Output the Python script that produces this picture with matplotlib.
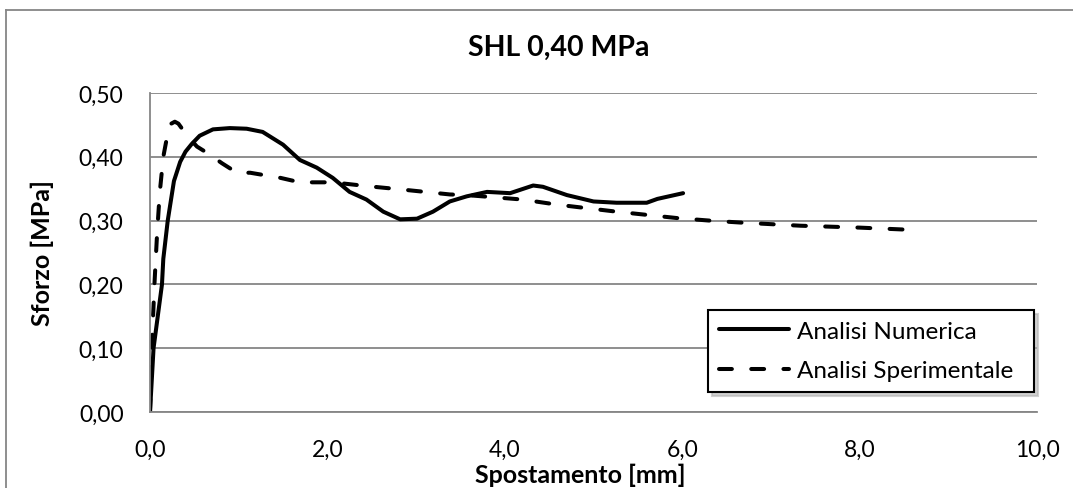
import matplotlib
matplotlib.use("Agg")
import matplotlib.pyplot as plt
from matplotlib.lines import Line2D

# Data
num_x = [0, 0.04, 0.135, 0.15, 0.20, 0.27, 0.34, 0.40, 0.47, 0.56, 0.71, 0.90, 1.09, 1.27,
         1.50, 1.69, 1.88, 2.06, 2.25, 2.44, 2.63, 2.82, 3.01, 3.19, 3.38, 3.57, 3.80,
         4.06, 4.32, 4.43, 4.70, 5.00, 5.26, 5.60, 5.72, 6.01]
num_y = [0, 0.10, 0.20, 0.24, 0.30, 0.362, 0.392, 0.408, 0.420, 0.433, 0.443, 0.445, 0.444, 0.439,
         0.419, 0.395, 0.383, 0.367, 0.345, 0.333, 0.314, 0.302, 0.303, 0.314, 0.330, 0.338, 0.345,
         0.343, 0.355, 0.353, 0.340, 0.330, 0.328, 0.328, 0.334, 0.343]

exp_x = [0, 0.02, 0.05, 0.08, 0.11, 0.15, 0.20, 0.24, 0.28, 0.32, 0.43, 0.53, 0.68, 0.81, 0.98,
         1.13, 1.47, 1.69, 2.06, 2.45, 2.82, 3.38, 3.57, 4.20, 4.59, 5.26, 5.94, 6.31, 6.65,
         7.33, 8.00, 8.50]
exp_y = [0, 0.10, 0.20, 0.28, 0.344, 0.400, 0.437, 0.452, 0.455, 0.452, 0.431, 0.416, 0.403, 0.390, 0.375,
         0.375, 0.367, 0.360, 0.360, 0.354, 0.349, 0.341, 0.340, 0.333, 0.325, 0.314, 0.304, 0.300, 0.297,
         0.292, 0.289, 0.286]

series_labels = ["Analisi Numerica", "Analisi Sperimentale"]
title = "SHL 0,40 MPa"
xlabel = "Spostamento [mm]"
ylabel = "Sforzo [MPa]"
xticks = [0, 2, 4, 6, 8, 10]
yticks = [0, 0.1, 0.2, 0.3, 0.4, 0.5]

plt.rcParams['font.family'] = ['Lato', 'DejaVu Sans']

W, H = 1073, 489
fig = plt.figure(figsize=(W / 100, H / 100), dpi=100)
L, R, T, B = 150, 1037, 94, 413
ax = fig.add_axes([L / W, 1 - B / H, (R - L) / W, (B - T) / H])

grid_c = '#868686'
lw = 2.9
ax.plot(num_x, num_y, color='black', lw=lw, solid_capstyle='round', solid_joinstyle='round',
        label=series_labels[0])
ax.plot(exp_x, exp_y, color='black', lw=lw, linestyle=(0, (3.2, 4.8)), dash_capstyle='round',
        dash_joinstyle='round', label=series_labels[1])

ax.set_xlim(0, 10)
ax.set_ylim(0, 0.5)
ax.set_xticks(xticks)
ax.set_yticks(yticks)
ax.set_xticklabels([f"{v:.1f}".replace('.', ',') for v in xticks])
ax.set_yticklabels([f"{v:.2f}".replace('.', ',') for v in yticks])
ax.tick_params(length=0, labelsize=16.5, pad=19, colors='black')
ax.yaxis.grid(True, color=grid_c, lw=1.3)
ax.set_axisbelow(True)
for s in ['top', 'right']:
    ax.spines[s].set_visible(False)
for s in ['left', 'bottom']:
    ax.spines[s].set_color(grid_c)
    ax.spines[s].set_linewidth(1.3)

fig.text(559 / W, 1 - 48 / H, title, ha='center', va='center', fontsize=20.5, fontweight='bold')
fig.text(580 / W, 1 - 475 / H, xlabel, ha='center', va='center', fontsize=18, fontweight='bold')
fig.text(42 / W, 1 - 253 / H, ylabel, ha='center', va='center', rotation=90, fontsize=18,
         fontweight='bold')

leg = ax.legend(loc='upper left',
                bbox_to_anchor=(708 / W, 1 - 311 / H - 0.01, (1034 - 708) / W, 0.01),
                bbox_transform=fig.transFigure, mode='expand', fontsize=17.5, frameon=True,
                fancybox=False, edgecolor='black', handlelength=2.9, handletextpad=0.3,
                borderaxespad=0, borderpad=0.45, labelspacing=0.75,
                shadow={'ox': 3, 'oy': -3, 'color': '0.7', 'alpha': 0.6})
leg.get_frame().set_linewidth(1.5)

# outer chart border
fig.add_artist(Line2D([6 / W, 6 / W], [0, 1 - 11 / H], color=grid_c, lw=1.3, transform=fig.transFigure))
fig.add_artist(Line2D([6 / W, 1], [1 - 11 / H, 1 - 11 / H], color=grid_c, lw=1.3, transform=fig.transFigure))

fig.savefig('out.png', dpi=100)
